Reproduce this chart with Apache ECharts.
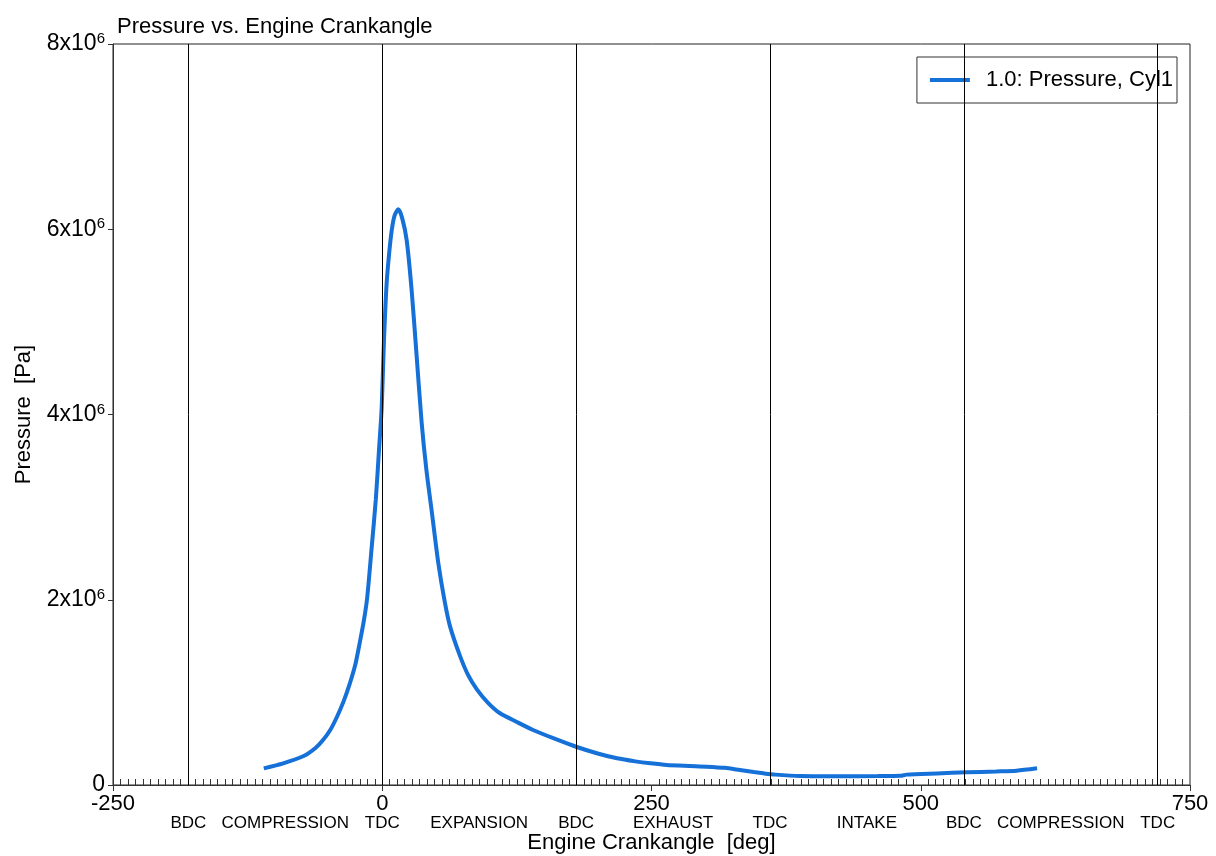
<!DOCTYPE html>
<html>
<head>
<meta charset="utf-8">
<title>Pressure vs. Engine Crankangle</title>
<script src="https://cdn.jsdelivr.net/npm/echarts@6/dist/echarts.min.js"></script>
<style>
  html, body { margin: 0; padding: 0; background: #fff; }
  #chart { width: 1216px; height: 856px; }
</style>
</head>
<body>
<div id="chart"></div>
<script>
// crank angle [deg] and cylinder pressure [Pa]
var crankAngle = [-110, -92, -73, -62, -55, -48, -42, -36, -30, -25, -21, -17, -14, -10, -6, -3, -0.5, 1.6, 4.1, 6.5, 8.8, 11.5, 14.9,
                  18.5, 22.7, 27.3, 32, 36.6, 41, 46, 52, 58, 63, 72, 80, 88, 98, 109, 125, 140, 160, 180, 200, 218, 235, 249, 264,
                  285, 301, 318, 332, 345, 354, 365, 388, 420, 460, 481, 487, 515, 543, 570, 589, 608];
var pressure = [180e3, 234e3, 313e3, 400e3, 486e3, 600e3, 737e3, 900e3, 1.10e6, 1.30e6, 1.53e6, 1.78e6, 2.02e6, 2.54e6, 3.08e6, 3.62e6, 4.08e6, 4.80e6, 5.42e6, 5.75e6, 5.99e6, 6.15e6, 6.215e6,
                6.12e6, 5.88e6, 5.34e6, 4.62e6, 3.91e6, 3.40e6, 2.95e6, 2.40e6, 1.98e6, 1.71e6, 1.40e6, 1.18e6, 1.03e6, 0.89e6, 0.777e6, 0.68e6, 0.594e6, 0.50e6, 0.413e6, 0.34e6, 0.288e6, 0.255e6, 0.234e6, 0.216e6,
                0.205e6, 0.198e6, 0.185e6, 0.162e6, 0.14e6, 0.126e6, 0.112e6, 0.097e6, 0.095e6, 0.097e6, 0.100e6, 0.112e6, 0.125e6, 0.137e6, 0.146e6, 0.154e6, 0.180e6];

// strokes: BDC / TDC positions
var phaseLines = [-180, 0, 180, 360, 540, 720];
var phaseTicks = [-180, -90, 0, 90, 180, 270, 360, 450, 540, 630, 720];
var phaseNames = ['BDC', 'COMPRESSION', 'TDC', 'EXPANSION', 'BDC', 'EXHAUST', 'TDC', 'INTAKE', 'BDC', 'COMPRESSION', 'TDC'];

var font = 'Liberation Sans, Arial, sans-serif';

var chart = echarts.init(document.getElementById('chart'));

var points = crankAngle.map(function (a, i) { return [a, pressure[i]]; });

var option = {
  backgroundColor: '#fff',
  animation: false,
  title: {
    text: 'Pressure vs. Engine Crankangle',
    left: 112,
    top: 11,
    textStyle: { fontFamily: font, fontSize: 22, fontWeight: 'normal', color: '#000' }
  },
  legend: {
    right: 39,
    top: 57,
    orient: 'vertical',
    padding: [12, 4, 12, 13],
    borderColor: '#333',
    borderWidth: 1,
    borderRadius: 0,
    backgroundColor: '#fff',
    icon: 'rect',
    itemWidth: 40,
    itemHeight: 4,
    textStyle: { fontFamily: font, fontSize: 22, color: '#000', padding: [0, 0, 0, 11] },
    data: ['1.0: Pressure, Cyl1']
  },
  grid: {
    left: 113, right: 26, top: 44, bottom: 71,
    outerBoundsMode: 'none',
    containLabel: false,
    show: true, borderColor: '#222', borderWidth: 1
  },
  xAxis: [
    {
      type: 'value', position: 'bottom', min: -250, max: 750, interval: 250,
      name: 'Engine Crankangle  [deg]', nameLocation: 'middle', nameGap: 47,
      nameTextStyle: { fontFamily: font, fontSize: 22, color: '#000' },
      axisLine: { show: true, onZero: false, lineStyle: { color: '#333' } },
      axisTick: { show: true, length: 6, lineStyle: { color: '#333' } },
      axisLabel: { fontFamily: font, fontSize: 22, color: '#000', margin: 8, showMinLabel: true, showMaxLabel: true },
      splitLine: { show: false }
    },
    {
      type: 'value', position: 'bottom', min: -250, max: 750, interval: 250,
      axisLine: { show: false, onZero: false },
      axisTick: { show: false, inside: true },
      minorTick: { show: true, splitNumber: 36, length: 6, lineStyle: { color: '#333' } },
      axisLabel: { show: false },
      splitLine: { show: false }
    },
    {
      type: 'value', position: 'bottom', min: -250, max: 750,
      axisLine: { show: false, onZero: false },
      axisTick: { show: false },
      axisLabel: {
        show: true,
        customValues: phaseTicks,
        margin: 30,
        fontFamily: font, fontSize: 17, color: '#000',
        formatter: function (v) {
          var i = phaseTicks.indexOf(v);
          return i >= 0 ? phaseNames[i] : '';
        }
      },
      splitLine: { show: false }
    }
  ],
  yAxis: {
    type: 'value', min: 0, max: 8e6, interval: 2e6,
    name: 'Pressure  [Pa]', nameLocation: 'middle', nameGap: 78,
    nameTextStyle: { fontFamily: font, fontSize: 22, color: '#000' },
    axisLine: { show: true, onZero: false, lineStyle: { color: '#333' } },
    axisTick: { show: true, length: 5, lineStyle: { color: '#333' } },
    axisLabel: {
      margin: 8,
      fontFamily: font, fontSize: 23, color: '#000',
      formatter: function (v) {
        if (v === 0) return '0';
        return (v / 1e6) + 'x10{sup|6}';
      },
      rich: {
        sup: { fontFamily: font, fontSize: 15, color: '#000', padding: [0, 0, 10, 0] }
      }
    },
    splitLine: { show: false }
  },
  series: [
    {
      name: '1.0: Pressure, Cyl1',
      type: 'line',
      xAxisIndex: 0,
      data: points,
      smooth: 0.25,
      showSymbol: false,
      symbol: 'none',
      itemStyle: { color: '#1570d8' },
      lineStyle: { color: '#1570d8', width: 4 },
      markLine: {
        silent: true,
        symbol: ['none', 'none'],
        label: { show: false },
        lineStyle: { color: '#000', width: 1, type: 'solid' },
        data: phaseLines.map(function (a) { return { xAxis: a }; })
      },
      z: 3
    }
  ]
};

chart.setOption(option);
</script>
</body>
</html>
